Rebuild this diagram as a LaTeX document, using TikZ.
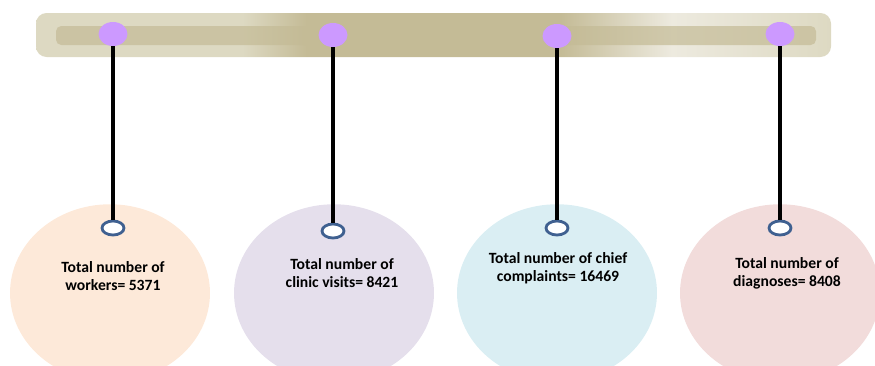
\documentclass[tikz,border=0pt]{standalone}
\usepackage{fontspec}
\setmainfont{Carlito}
\usetikzlibrary{shapes.geometric}

\definecolor{barlight}{HTML}{DDD9C2}
\definecolor{bardark}{HTML}{C4BB96}
\definecolor{barpale}{HTML}{EDEADF}
\definecolor{dotpurple}{HTML}{CC99FF}
\definecolor{ringblue}{HTML}{3F6090}
\definecolor{peach}{HTML}{FDE9D9}
\definecolor{lilac}{HTML}{E5DFEC}
\definecolor{skyblue}{HTML}{DAEEF3}
\definecolor{rose}{HTML}{F2DCDB}

\pgfdeclarehorizontalshading{barshade}{100bp}{color(0bp)=(barlight); color(38bp)=(barlight); color(42bp)=(bardark); color(58bp)=(bardark); color(65bp)=(barpale); color(75bp)=(barlight); color(100bp)=(barlight)}

\tikzset{
  bubble/.style={ellipse,minimum width=4cm,minimum height=3.55cm,inner sep=0pt},
  pin/.style={ellipse,fill=dotpurple,minimum width=0.58cm,minimum height=0.48cm,inner sep=0pt},
  ring/.style={ellipse,draw=ringblue,fill=white,line width=1.6pt,minimum width=0.44cm,minimum height=0.28cm,inner sep=0pt},
  cord/.style={line width=2.4pt,black},
  label/.style={font=\bfseries\fontsize{8.9}{10.2}\selectfont,align=center}
}

\begin{document}
\begin{tikzpicture}[x=0.02cm,y=-0.02cm]
  \useasboundingbox (0,0) rectangle (875,365);
  \clip (0,0) rectangle (875,365);

  % the bar
  \path[shading=barshade,rounded corners=6] (36,13) rectangle (831,57);
  \fill[bardark,opacity=0.7,rounded corners=3] (56,26) rectangle (816,45);

  % bubbles
  \begin{scope}[every node/.style={bubble}]
    \node[fill=peach]   (e1) at (110,293) {};
    \node[fill=lilac]   (e2) at (334,293) {};
    \node[fill=skyblue] (e3) at (557,293) {};
    \node[fill=rose]    (e4) at (780,293) {};
  \end{scope}

  \begin{scope}[every node/.style={label}]
    \node (t1) at (113,276) {Total number of\\workers= 5371};
    \node (t2) at (342,273) {Total number of\\clinic visits= 8421};
    \node (t3) at (558,268) {Total number of chief\\complaints= 16469};
    \node (t4) at (787,273) {Total number of\\diagnoses= 8408};
  \end{scope}

  % pins and rings
  \begin{scope}[every node/.style={pin}]
    \node (d1) at (113,34) {};
    \node (d2) at (333,35) {};
    \node (d3) at (557,36) {};
    \node (d4) at (780,34) {};
  \end{scope}

  \begin{scope}[every node/.style={ring}]
    \node (r1) at (113,228) {};
    \node (r2) at (333,231) {};
    \node (r3) at (557,228) {};
    \node (r4) at (780,228) {};
  \end{scope}

  \begin{scope}[every edge/.style={draw,cord}]
    \path (d1) edge (r1);
    \path (d2) edge (r2);
    \path (d3) edge (r3);
    \path (d4) edge (r4);
  \end{scope}

\end{tikzpicture}
\end{document}
